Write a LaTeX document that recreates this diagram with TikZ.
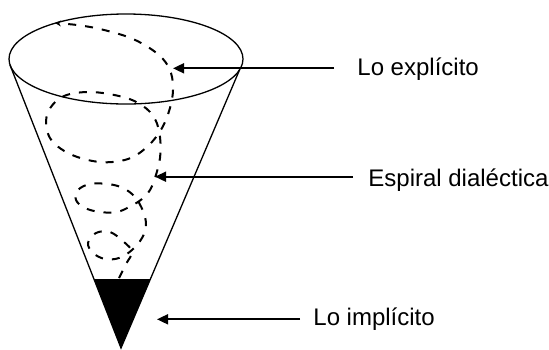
\documentclass[tikz,border=0pt]{standalone}
\usepackage{fontspec}
\setmainfont{Liberation Sans}
\usetikzlibrary{arrows.meta}
\tikzset{t/.style={font=\fontsize{12}{12}\selectfont, inner sep=0pt, anchor=base west}}
\tikzset{c/.style={line width=0.65pt}}
\tikzset{d/.style={line width=1pt, dash pattern=on 4pt off 4.5pt}}
\tikzset{p/.style={line width=0.85pt, -{Triangle[length=5.5pt,width=5pt]}}}

\begin{document}
\begin{tikzpicture}[x=0.5pt,y=-0.5pt]
  \useasboundingbox (0,0) rectangle (549,349);
  % cone
  \draw [c] (126,59) ellipse [x radius=58.5pt, y radius=22.5pt];
  \coordinate (L) at (10,65);
  \coordinate (R) at (239.5,70);
  \coordinate (V) at (121,348);
  \draw [c] (L) -- (V) -- (R);
  \fill (94,279) -- (150.5,279) -- (V) -- cycle;
  % spiral
  \draw [d, -{Stealth[length=3pt,width=3pt]}] plot [smooth, tension=0.6] coordinates {
    (119,278) (126,264) (132,252) (124,242) (110,232) (96,233) (88,243)
    (93,253) (105,259) (119,258) (132,250) (142,238) (146,225) (143,211)
    (135,197) (123,188) (108,184) (90,184) (78,190) (76,200) (85,208)
    (100,212) (117,212) (131,206) (142,199) (150,190) (155,178) (160,158)
    (160,137) (155,119) (143,106) (123,97) (90,92) (62,97) (47,115)
    (50,138) (70,154) (100,162) (128,159) (148,146) (162,128) (170,108)
    (173,90) (171,73) (163,59) (148,47) (128,37) (100,29) (77,25) (55,23)};
  % labels
  \node [t] (A) at (357,75) {Lo explícito};
  \coordinate (a) at (173,68.3);
  \draw [p, shorten <=11.5pt] (A.west |- a) -- (a);
  \node [t] (B) at (368,186.7) {Espiral dialéctica};
  \coordinate (b) at (155,176.7);
  \draw [p, shorten <=7.5pt] (B.west |- b) -- (b);
  \node [t] (C) at (313,325) {Lo implícito};
  \coordinate (c) at (157,319.3);
  \draw [p, shorten <=6.5pt] (C.west |- c) -- (c);
\end{tikzpicture}
\end{document}
